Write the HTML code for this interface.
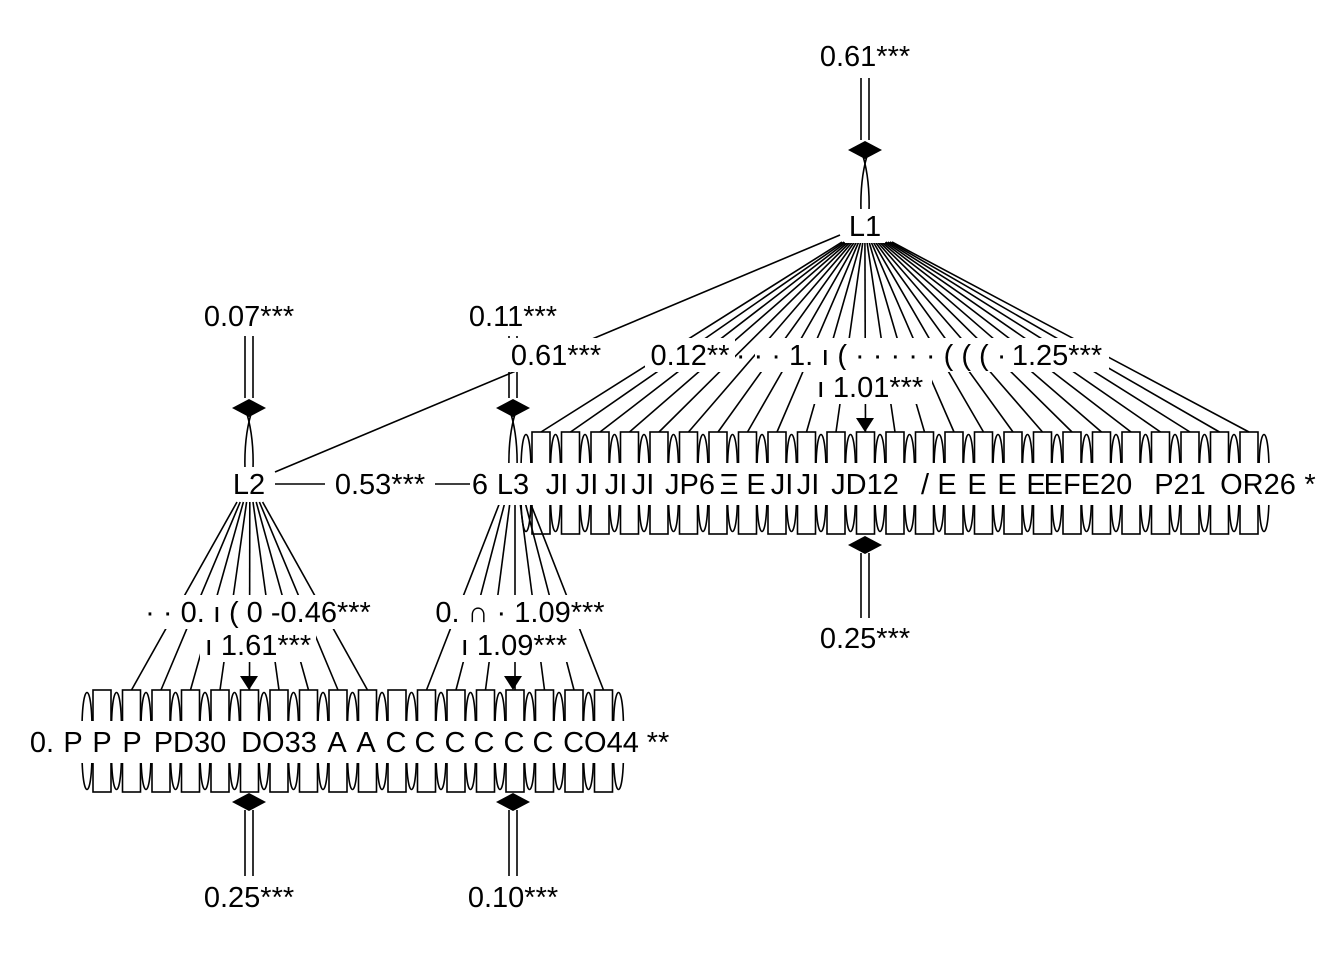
<!DOCTYPE html>
<html><head><meta charset="utf-8"><style>
body{margin:0;background:#fff}
svg{display:block}
text{font-family:"Liberation Sans",sans-serif;font-size:29px;fill:#000}
</style></head><body>
<svg id="sv" width="1344" height="960" viewBox="0 0 1344 960" xmlns="http://www.w3.org/2000/svg">
<g id="all"></g>
</svg>
<script>
(function(){
const NS="http://www.w3.org/2000/svg";
const g=document.getElementById('all');
function el(t,a,tx){const e=document.createElementNS(NS,t);for(const k in a)e.setAttribute(k,a[k]);if(tx!==undefined)e.textContent=tx;g.appendChild(e);return e;}
function line(x1,y1,x2,y2){el('line',{x1:x1,y1:y1,x2:x2,y2:y2,stroke:'#000','stroke-width':1.6});}
function path(d,fill){el('path',{d:d,stroke:'#000','stroke-width':1.6,fill:fill||'none'});}
function txt(x,y,s,bg,w){ if(bg){el('rect',{x:x-w/2,y:y-17,width:w,height:34,fill:'#fff'});} el('text',{x:x,y:y+10,'text-anchor':'middle'},s);}
const topRow=[];for(let k=0;k<25;k++)topRow.push(541+k*29.5);
const botRow=[];for(let k=0;k<18;k++)botRow.push(102+k*29.5);
topRow.forEach(function(x,i){const sx=842+i*(50/24);line(sx,242,x,432);});
line(840,235,275,472);
for(let k=1;k<=9;k++){const sx=237+(k-1)*3.2;line(sx,502,botRow[k],690);}
for(let k=11;k<=17;k++){const sx=500+(k-11)*5;line(sx,502,botRow[k],690);}
line(275,484,495,484);
function latVar(x,yl,ya,yn){line(x-4,yl,x-4,ya-10);line(x+4,yl,x+4,ya-10);
 el('polygon',{points:(x-17)+','+ya+' '+x+','+(ya-9)+' '+(x+17)+','+ya+' '+x+','+(ya+9),fill:'#000'});
 path('M'+(x-2)+','+(ya+6)+' Q'+(x+5)+','+(ya+30)+' '+(x+4)+','+yn);
 path('M'+(x+2)+','+(ya+6)+' Q'+(x-5)+','+(ya+30)+' '+(x-4)+','+yn);}
latVar(865,78,150,212);latVar(249,336,408,470);latVar(513,336,408,470);
function loop(a,b,y1,y2){path('M'+a+','+y1+' C'+a+','+y2+' '+b+','+y2+' '+b+','+y1);}
function boxes(xs,yt,yb){xs.forEach(function(x){el('rect',{x:x-9,y:yt,width:18,height:yb-yt,fill:'none',stroke:'#000','stroke-width':1.6});
 loop(x-20,x-10,yt+40,yt-10);loop(x-20,x-10,yb-40,yb+10);});
 const l=xs[xs.length-1]+10;loop(l,l+10,yt+40,yt-10);loop(l,l+10,yb-40,yb+10);}
boxes(topRow,432,534);boxes(botRow,690,792);
function resVar(x,ya,yl){line(x-4,ya+8,x-4,yl);line(x+4,ya+8,x+4,yl);
 el('polygon',{points:(x-17)+','+ya+' '+x+','+(ya-9)+' '+(x+17)+','+ya+' '+x+','+(ya+9),fill:'#000'});}
resVar(865,545,618);resVar(249,802,876);resVar(513,802,876);
[[865,432],[249,690],[513,690]].forEach(function(p){const x=p[0],y=p[1];el('polygon',{points:(x-9)+','+(y-14)+' '+(x+9)+','+(y-14)+' '+x+','+y,fill:'#000'});});
el('rect',{x:470,y:463,width:850,height:42,fill:'#fff'});
el('rect',{x:30,y:721,width:645,height:42,fill:'#fff'});
txt(865,56,'0.61***');txt(249,316,'0.07***');txt(513,316,'0.11***');
txt(865,226,'L1',true,40);
txt(556,355,'0.61***',true,106);
txt(690,355,'0.12**',true,90);
txt(880,355,'· · · 1. ı  (  · · · · ·  ( ( ( · (',true,250);
txt(1057,355,'1.25***',true,104);
txt(870,387,'ı 1.01***',true,124);
txt(249,484,'L2',true,40);txt(380,484,'0.53***',true,110);
[['6',480],['L3',513],['JI',557],['JI',587],['JI',616],['JI',643],['JP6',690],['Ξ',729],['E',756],['JI',782],['JI',808],['JD12',865],['/',925],['E',947],['E',977],['E',1007],['E',1036],['EFE20',1088],['P21',1180],['OR26',1258],['*',1310]].forEach(function(p){txt(p[1],484,p[0]);});
[['0.',42],['P',73],['P',102],['P',132],['PD30',190],['DO33',279],['A',337],['A',366],['C',396],['C',425],['C',455],['C',484],['C',514],['C',543],['CO44',601],['**',658]].forEach(function(p){txt(p[1],742,p[0]);});
txt(258,612,'· · 0. ı  ( 0 -0.46***',true,250);
txt(258,645,'ı 1.61***',true,116);
txt(520,612,'0. ∩  · 1.09***',true,190);
txt(514,645,'ı 1.09***',true,124);
txt(865,638,'0.25***');txt(249,897,'0.25***');txt(513,897,'0.10***');
})();
</script>
</body></html>
